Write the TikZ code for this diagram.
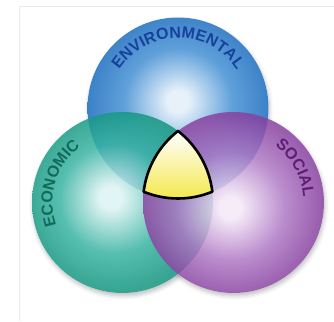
\documentclass[tikz,border=0pt]{standalone}
\usepackage{fontspec}
\newfontfamily\ringfont{Liberation Sans}
\usepackage{tikz}
\usetikzlibrary{decorations.text,shadows.blur}
\usepackage{xcolor}

\definecolor{envdark}{RGB}{26,108,190}
\definecolor{envmid}{RGB}{68,144,212}
\definecolor{envlight}{RGB}{226,239,250}
\definecolor{envtext}{RGB}{22,66,158}
\definecolor{ecodark}{RGB}{20,150,128}
\definecolor{ecomid}{RGB}{58,180,162}
\definecolor{ecolight}{RGB}{222,244,244}
\definecolor{ecotext}{RGB}{18,106,90}
\definecolor{socdark}{RGB}{136,66,160}
\definecolor{socmid}{RGB}{174,120,196}
\definecolor{soclight}{RGB}{244,232,248}
\definecolor{soctext}{RGB}{96,28,118}
\definecolor{coreyellow}{RGB}{244,232,72}
\definecolor{framegray}{RGB}{234,234,234}

% inner 25bp of a radial shading is what covers the circle
\pgfdeclareradialshading{envball}{\pgfpoint{0bp}{2bp}}{color(0bp)=(envlight); color(3bp)=(envlight); color(15bp)=(envmid); color(25bp)=(envdark); color(50bp)=(envdark)}
\pgfdeclareradialshading{ecoball}{\pgfpoint{-3.5bp}{1.5bp}}{color(0bp)=(ecolight); color(3bp)=(ecolight); color(15bp)=(ecomid); color(25bp)=(ecodark); color(50bp)=(ecodark)}
\pgfdeclareradialshading{socball}{\pgfpoint{-1bp}{-1.5bp}}{color(0bp)=(soclight); color(3bp)=(soclight); color(15bp)=(socmid); color(25bp)=(socdark); color(50bp)=(socdark)}

\begin{document}
\begin{tikzpicture}[x=1pt,y=1pt,
  ring/.style={fill opacity=0.85},
  ringtext/.style 2 args={decorate,decoration={text along path,text align=center,
    text={|\ringfont\bfseries\fontsize{16pt}{19pt}\selectfont\color{#1}|#2}}},
  core/.style={line width=2.6pt,line join=round,top color=white,middle color=coreyellow!45,bottom color=coreyellow}]
  \useasboundingbox (0,0) rectangle (334,321);
  \draw[framegray,line width=0.8pt] (19,0) -- (19,315) -- (334,315);

  \coordinate (env) at (178,213);
  \coordinate (eco) at (122.5,118.5);
  \coordinate (soc) at (233.5,118.5);
  \coordinate (top) at (178,190);

  % soft shadow under the rings
  \foreach \c in {env,eco,soc}
    \path[blur shadow={shadow xshift=1pt,shadow yshift=-3pt,shadow blur radius=4pt,shadow opacity=25}] (\c) circle[radius=90.5pt];
  \foreach \c in {env,eco,soc}
    \fill[white] (\c) circle[radius=90.5pt];

  \shade[ring,shading=envball] (env) circle[radius=90.5pt];
  \shade[ring,shading=ecoball] (eco) circle[radius=90.5pt];
  \shade[ring,shading=socball] (soc) circle[radius=90.5pt];

  \shade[draw=black,core] (top) arc[start angle=52.17,end angle=6.83,radius=90.5pt]
    arc[start angle=-67.69,end angle=-112.31,radius=90.5pt]
    arc[start angle=173.17,end angle=127.83,radius=90.5pt] -- cycle;

  \path[ringtext={envtext}{ENVIRONMENTAL}] (env) ++(170:70pt) arc[start angle=170,end angle=10,radius=70pt];
  \path[ringtext={ecotext}{ECONOMIC}] (eco) ++(223:70pt) arc[start angle=223,end angle=103,radius=70pt];
  \path[ringtext={soctext}{SOCIAL}] (soc) ++(89:70pt) arc[start angle=89,end angle=-31,radius=70pt];
\end{tikzpicture}
\end{document}
